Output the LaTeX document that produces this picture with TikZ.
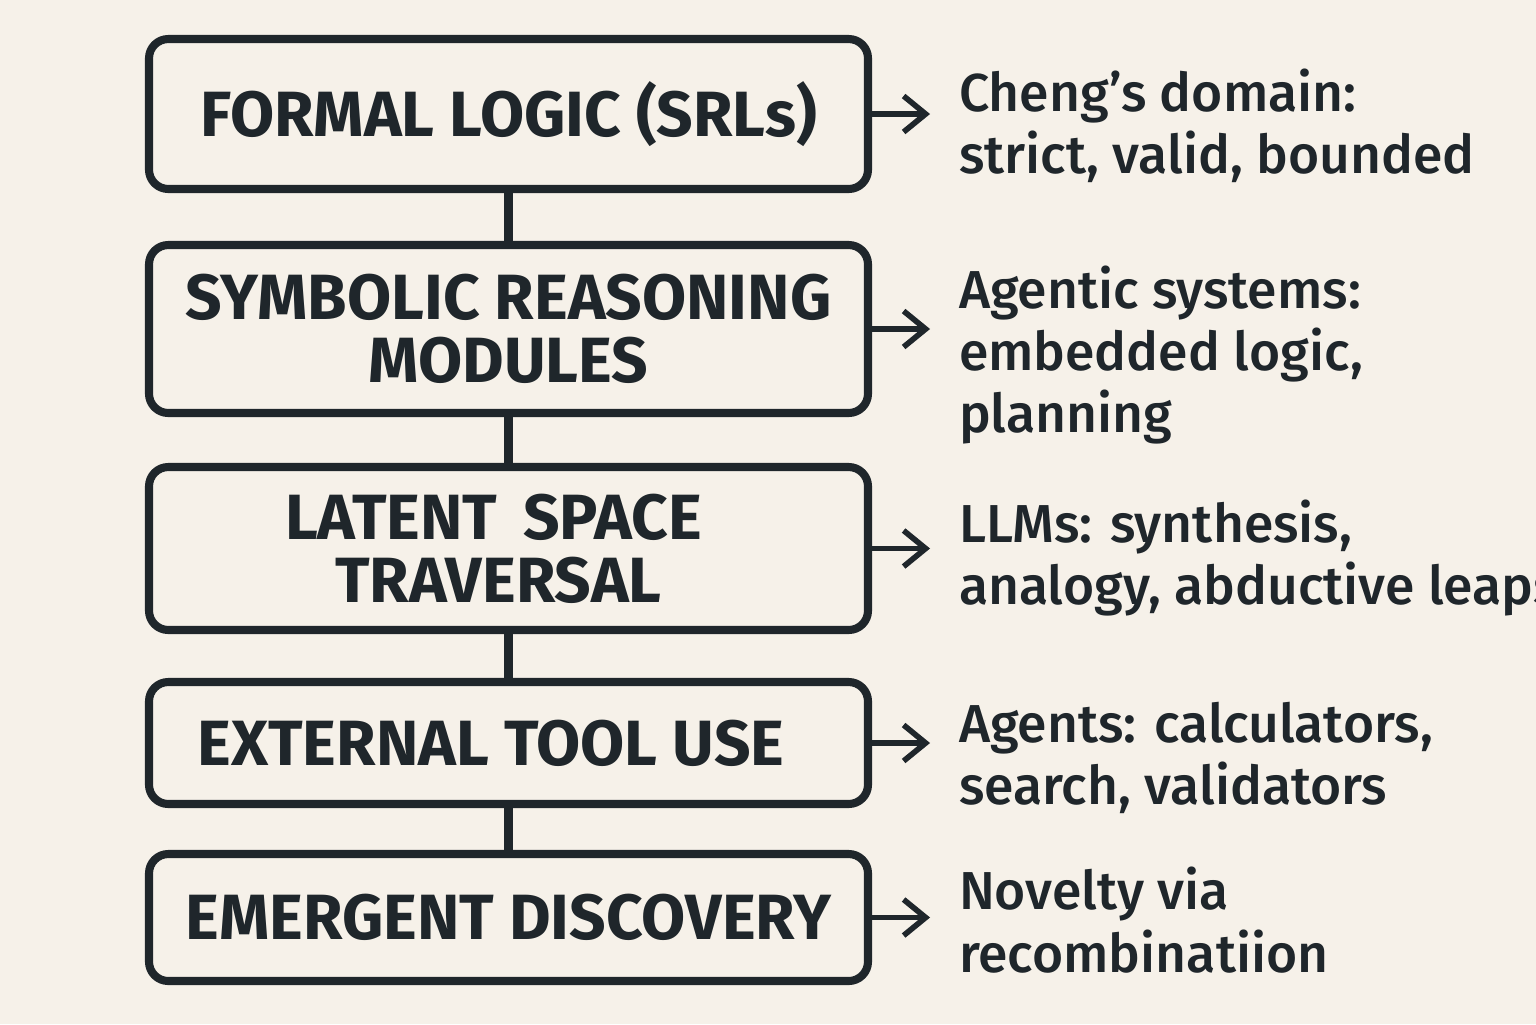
\documentclass[tikz,border=0pt]{standalone}
\usepackage{fontspec}
\setmainfont{Fira Sans}
\newfontfamily\notefont{Fira Sans Medium}
\usetikzlibrary{arrows.meta, positioning}
\definecolor{cink}{HTML}{1F262B}
\definecolor{cpaper}{HTML}{F6F1E9}
\tikzset{
  every picture/.style={line width=2.3pt, draw=cink, text=cink},
  box/.style={draw=cink, rounded corners=5.5pt, align=center, minimum width=7.19cm, inner sep=0pt, font=\fontsize{18.2}{17.9}\selectfont\bfseries},
  arrow/.style={-{Straight Barb[length=2.2mm, width=3.6mm, line width=1.6pt]}, draw=cink, line width=1.6pt},
  link/.style={draw=cink, line width=2.3pt},
  note/.style={anchor=west, align=left, inner sep=0pt, font=\notefont\fontsize{15.2}{17.7}\selectfont},
}

\begin{document}
\begin{tikzpicture}
  \fill[cpaper] (0,0) rectangle (15.36,-10.24);
  \useasboundingbox (0,0) rectangle (15.36,-10.24);
  % the five layers
  \node[box, minimum height=1.50cm] (logic) at (5.085,-1.14) {FORMAL LOGIC (SRLs)};
  \node[box, minimum height=1.68cm] (symbolic) at (5.085,-3.29) {SYMBOLIC REASONING\\MODULES};
  \node[box, minimum height=1.63cm] (latent) at (5.085,-5.485) {\hspace*{-0.3cm}LATENT\ \,SPACE\\\hspace*{-0.2cm}TRAVERSAL};
  \node[box, minimum height=1.22cm] (tools) at (5.085,-7.43) {\hspace*{-0.35cm}EXTERNAL TOOL USE};
  \node[box, minimum height=1.27cm] (emergent) at (5.085,-9.175) {EMERGENT DISCOVERY};
  % spine
  \draw[link] (logic) -- (symbolic);
  \draw[link] (symbolic) -- (latent);
  \draw[link] (latent) -- (tools);
  \draw[link] (tools) -- (emergent);
  % side notes
  \node[note] (n1) at (9.55,-1.26) {Cheng’s domain:\\strict, valid, bounded};
  \node[note] (n2) at (9.55,-3.55) {Agentic systems:\\embedded logic,\\planning};
  \node[note] (n3) at (9.55,-5.58) {LLMs: synthesis,\\analogy, abductive leaps};
  \node[note] (n4) at (9.55,-7.58) {Agents: calculators,\\search, validators};
  \node[note] (n5) at (9.55,-9.2) {Novelty via\\recombinatiion};
  \draw[arrow] (logic.east) -- ++(0.58,0);
  \draw[arrow] (symbolic.east) -- ++(0.58,0);
  \draw[arrow] (latent.east) -- ++(0.58,0);
  \draw[arrow] (tools.east) -- ++(0.58,0);
  \draw[arrow] (emergent.east) -- ++(0.58,0);
\end{tikzpicture}
\end{document}
